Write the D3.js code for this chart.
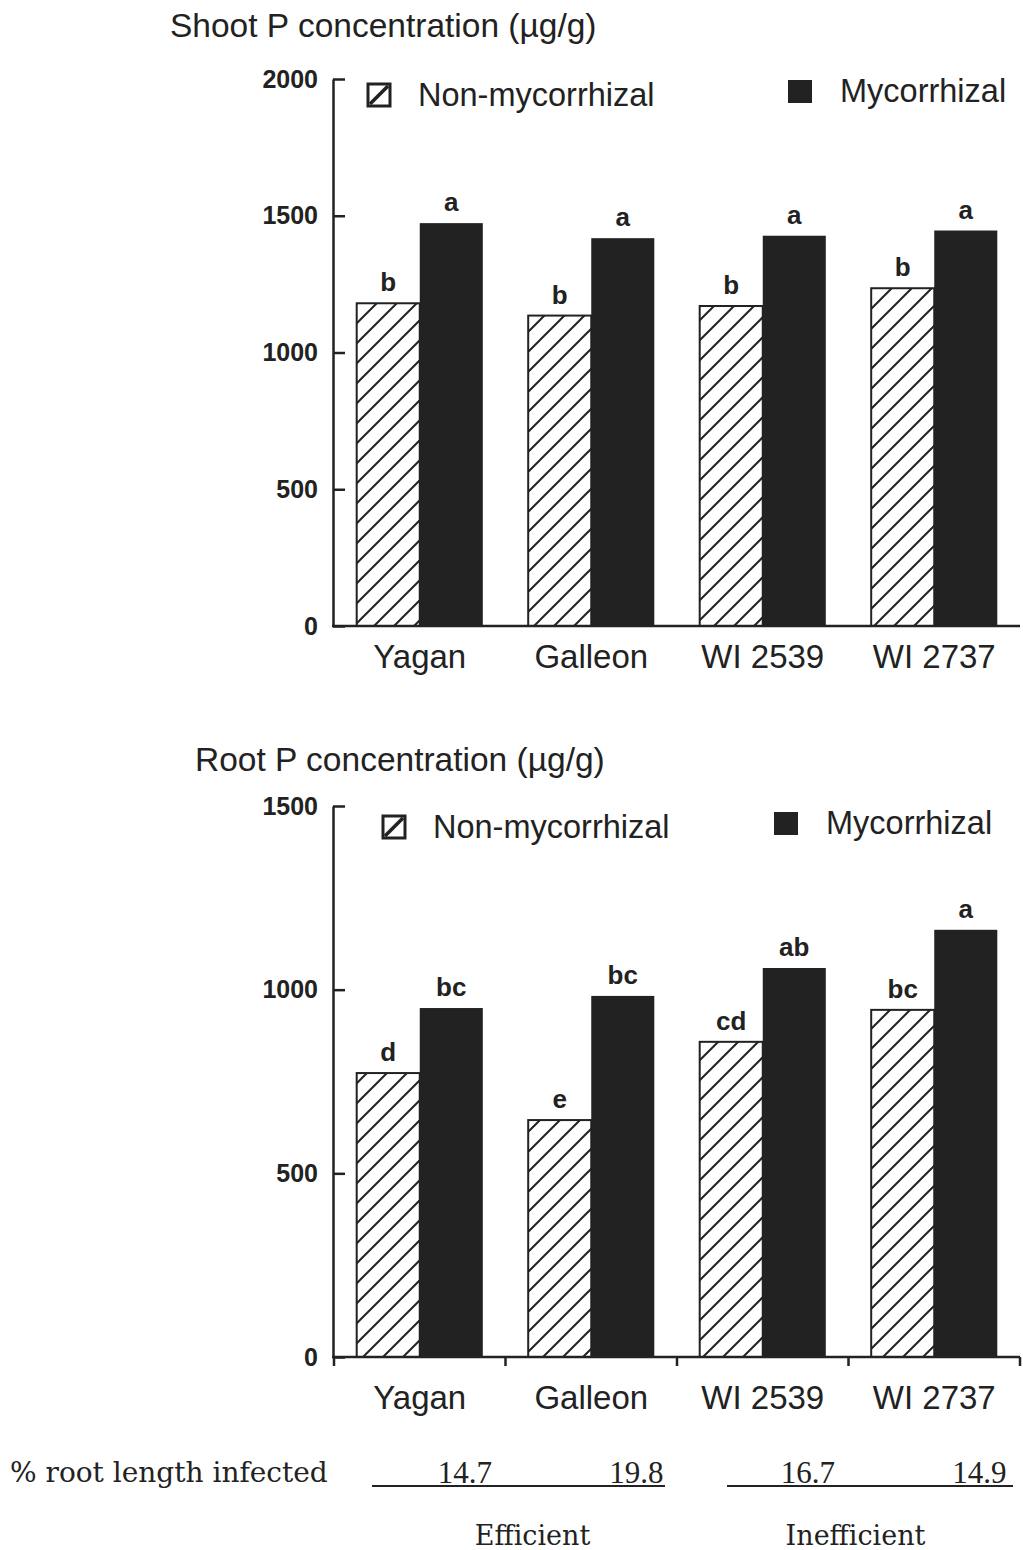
<!DOCTYPE html>
<html>
<head>
<meta charset="utf-8">
<script src="https://cdn.jsdelivr.net/npm/d3@7"></script>
<style>
  body { margin: 0; background: #fff; }
  text { fill: #222; }
</style>
</head>
<body>
<div id="chart"></div>
<script>
// data
var cultivars = ["Yagan", "Galleon", "WI 2539", "WI 2737"];
var series = ["Non-mycorrhizal", "Mycorrhizal"];

var shootNonMyc = [1180, 1135, 1170, 1235];
var shootMyc = [1473, 1418, 1427, 1446];
var shootLettersNon = ["b", "b", "b", "b"];
var shootLettersMyc = ["a", "a", "a", "a"];
var shootTicks = [0, 500, 1000, 1500, 2000];

var rootNonMyc = [773, 645, 858, 945];
var rootMyc = [950, 983, 1059, 1163];
var rootLettersNon = ["d", "e", "cd", "bc"];
var rootLettersMyc = ["bc", "bc", "ab", "a"];
var rootTicks = [0, 500, 1000, 1500];

var infected = [14.7, 19.8, 16.7, 14.9];
var efficiency = ["Efficient", "Inefficient"];

var ink = "#222";
var sans = "'Liberation Sans', Arial, Helvetica, sans-serif";
var serif = "'DejaVu Serif', serif";

var svg = d3.select("#chart")
    .append("svg")
    .attr("width", 1023)
    .attr("height", 1550);

// hatch pattern for the non-mycorrhizal bars
var hs = 20;
var defs = svg.append("defs");
var hatch = defs.append("pattern")
    .attr("id", "hatch")
    .attr("patternUnits", "userSpaceOnUse")
    .attr("width", hs)
    .attr("height", hs);
hatch.append("rect").attr("width", hs).attr("height", hs).attr("fill", "#fff");
hatch.append("path")
    .attr("d", `M0,${hs}L${hs},0M-4,4L4,-4M${hs - 4},${hs + 4}L${hs + 4},${hs - 4}`)
    .attr("stroke", ink)
    .attr("stroke-width", 2);

// shared x scales
var xGroup = d3.scaleBand()
    .domain(cultivars)
    .range([334, 1020])
    .padding(0);

var xSeries = d3.scaleBand()
    .domain(series)
    .range([0, xGroup.bandwidth()])
    .paddingInner(0)
    .paddingOuter(0.36);

function drawPanel(p) {
    var g = svg.append("g");

    var y = d3.scaleLinear()
        .domain([0, d3.max(p.ticks)])
        .range([p.bottom, p.top]);

    // title
    g.append("text")
        .attr("x", p.titleX)
        .attr("y", p.titleY)
        .attr("font-family", sans)
        .attr("font-size", 33.5)
        .text(p.title);

    var rows = cultivars.map(function(c, i) {
        return [
            { cultivar: c, s: series[0], v: p.non[i], letter: p.lettersNon[i] },
            { cultivar: c, s: series[1], v: p.myc[i], letter: p.lettersMyc[i] }
        ];
    });
    var flat = d3.merge(rows);

    // bars
    g.selectAll(".bar")
        .data(flat)
        .enter()
        .append("rect")
        .attr("class", "bar")
        .attr("x", d => xGroup(d.cultivar) + xSeries(d.s))
        .attr("y", d => y(d.v))
        .attr("width", xSeries.bandwidth())
        .attr("height", d => y(0) - y(d.v))
        .attr("fill", d => d.s === series[0] ? "url(#hatch)" : ink)
        .attr("stroke", ink)
        .attr("stroke-width", d => d.s === series[0] ? 2 : 0);

    // significance letters
    g.selectAll(".letter")
        .data(flat)
        .enter()
        .append("text")
        .attr("class", "letter")
        .attr("x", d => xGroup(d.cultivar) + xSeries(d.s) + xSeries.bandwidth() / 2)
        .attr("y", d => y(d.v) - 12)
        .attr("text-anchor", "middle")
        .attr("font-family", sans)
        .attr("font-weight", "bold")
        .attr("font-size", 26)
        .text(d => d.letter);

    // y axis, ticks pointing inward
    var yAxis = g.append("g")
        .attr("transform", "translate(333,0)")
        .call(d3.axisLeft(y).tickValues(p.ticks).tickFormat(d3.format("d"))
            .tickSizeInner(-12).tickSizeOuter(0).tickPadding(15));
    yAxis.select(".domain").attr("stroke", ink).attr("stroke-width", 2.5);
    yAxis.selectAll(".tick line").attr("stroke", ink).attr("stroke-width", 2.5);
    yAxis.selectAll(".tick text")
        .attr("fill", ink)
        .attr("font-family", sans)
        .attr("font-weight", "bold")
        .attr("font-size", 25);

    // x baseline
    var xr = xGroup.range();
    g.append("line")
        .attr("x1", 332).attr("x2", xr[1])
        .attr("y1", y(0)).attr("y2", y(0))
        .attr("stroke", ink)
        .attr("stroke-width", 2.5);

    if (p.xTicks) {
        var edges = cultivars.map(c => xGroup(c)).concat([xr[1]]);
        g.selectAll(".xtick")
            .data(edges)
            .enter()
            .append("line")
            .attr("x1", d => d).attr("x2", d => d)
            .attr("y1", y(0)).attr("y2", y(0) + 9)
            .attr("stroke", ink)
            .attr("stroke-width", 2.5);
    }

    // cultivar labels
    g.selectAll(".cat")
        .data(cultivars)
        .enter()
        .append("text")
        .attr("x", d => xGroup(d) + xGroup.bandwidth() / 2)
        .attr("y", p.catY)
        .attr("text-anchor", "middle")
        .attr("font-family", sans)
        .attr("font-size", 33)
        .text(d => d);

    // legend
    var lg = g.append("g");
    lg.append("rect")
        .attr("x", p.legend[0]).attr("y", p.legend[1])
        .attr("width", 22).attr("height", 22)
        .attr("fill", "#fff")
        .attr("stroke", ink).attr("stroke-width", 3);
    lg.append("line")
        .attr("x1", p.legend[0] + 2).attr("y1", p.legend[1] + 20)
        .attr("x2", p.legend[0] + 20).attr("y2", p.legend[1] + 2)
        .attr("stroke", ink).attr("stroke-width", 3.5);
    lg.append("text")
        .attr("x", p.legend[0] + 50).attr("y", p.legend[1] + 22)
        .attr("font-family", sans).attr("font-size", 32.5)
        .text(series[0]);
    lg.append("rect")
        .attr("x", p.legend[2]).attr("y", p.legend[3])
        .attr("width", 24).attr("height", 23)
        .attr("fill", ink);
    lg.append("text")
        .attr("x", p.legend[2] + 52).attr("y", p.legend[3] + 22)
        .attr("font-family", sans).attr("font-size", 32.5)
        .text(series[1]);

    return g;
}

drawPanel({
    title: "Shoot P concentration (\u00b5g/g)",
    titleX: 170, titleY: 37,
    top: 79, bottom: 626,
    ticks: shootTicks,
    non: shootNonMyc, myc: shootMyc,
    lettersNon: shootLettersNon, lettersMyc: shootLettersMyc,
    catY: 668,
    xTicks: false,
    legend: [368, 84, 788, 80]
});

drawPanel({
    title: "Root P concentration (\u00b5g/g)",
    titleX: 195, titleY: 771,
    top: 806, bottom: 1357,
    ticks: rootTicks,
    non: rootNonMyc, myc: rootMyc,
    lettersNon: rootLettersNon, lettersMyc: rootLettersMyc,
    catY: 1409,
    xTicks: true,
    legend: [383, 816, 774, 812]
});

// % root length infected row
var foot = svg.append("g");
foot.append("text")
    .attr("x", 10).attr("y", 1482)
    .attr("font-family", serif)
    .attr("font-size", 28)
    .text("% root length infected");

foot.selectAll(".inf")
    .data(infected)
    .enter()
    .append("text")
    .attr("x", (d, i) => xGroup(cultivars[i]) + xGroup.bandwidth() / 2 + 45)
    .attr("y", 1483)
    .attr("text-anchor", "middle")
    .attr("font-family", "'Liberation Serif', serif")
    .attr("font-size", 31)
    .text(d => d.toFixed(1));

// underline for each efficiency pair
var step = xGroup.step();
var pairs = [[cultivars[0], cultivars[1]], [cultivars[2], cultivars[3]]];
foot.selectAll(".pair")
    .data(pairs)
    .enter()
    .append("line")
    .attr("x1", (d, i) => xGroup(d[0]) + (i === 0 ? 38 : 50))
    .attr("x2", (d, i) => xGroup(d[1]) + step - (i === 0 ? 12 : 7))
    .attr("y1", 1486).attr("y2", 1486)
    .attr("stroke", ink)
    .attr("stroke-width", 2);

foot.selectAll(".eff")
    .data(efficiency)
    .enter()
    .append("text")
    .attr("x", (d, i) => xGroup(pairs[i][1]) + (i === 0 ? 27 : 7))
    .attr("y", 1545)
    .attr("text-anchor", "middle")
    .attr("font-family", serif)
    .attr("font-size", 27)
    .text(d => d);
</script>
</body>
</html>
